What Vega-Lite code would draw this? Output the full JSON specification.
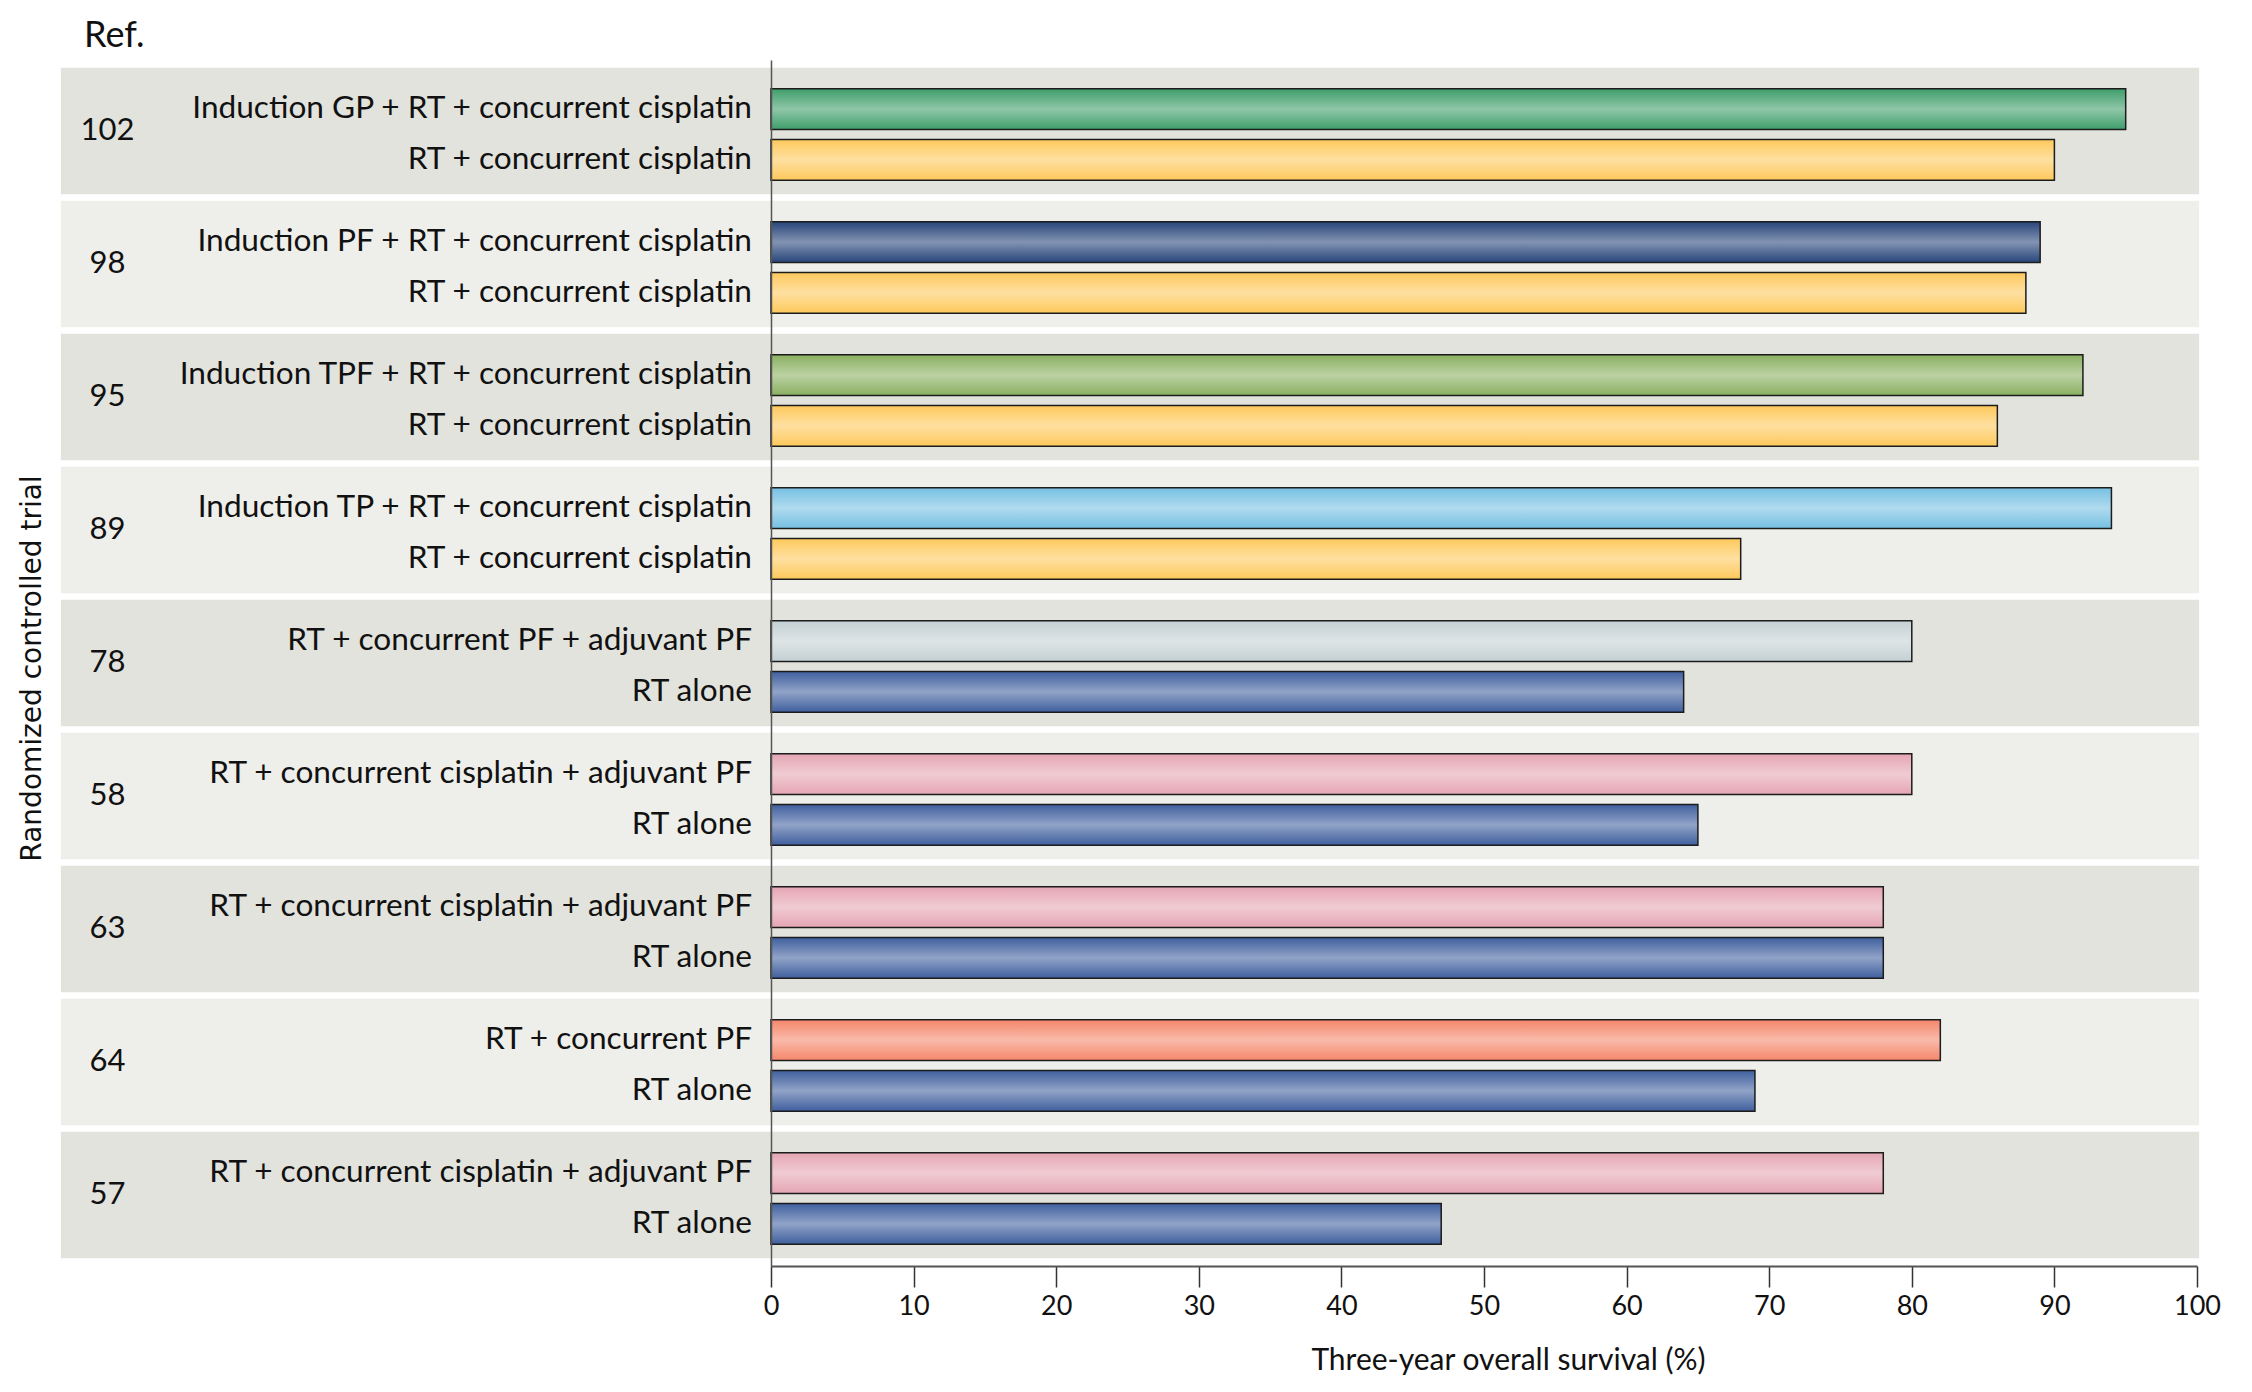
{
  "$schema": "https://vega.github.io/schema/vega-lite/v6.json",
  "width": 1426,
  "height": 1206,
  "autosize": {"type": "none"},
  "padding": {"left": 771, "top": 60, "right": 55, "bottom": 126},
  "background": "#ffffff",
  "config": {"view": {"stroke": null}},
  "title": {"text": "Ref.", "anchor": "start", "frame": "group", "dx": -687, "dy": 35, "offset": 12, "baseline": "alphabetic", "font": "Lato", "fontSize": 36, "fontWeight": "normal", "color": "#111111"},
  "datasets": {
    "bands": [
      {"trial": "102", "shade": "dark"},
      {"trial": "98", "shade": "light"},
      {"trial": "95", "shade": "dark"},
      {"trial": "89", "shade": "light"},
      {"trial": "78", "shade": "dark"},
      {"trial": "58", "shade": "light"},
      {"trial": "63", "shade": "dark"},
      {"trial": "64", "shade": "light"},
      {"trial": "57", "shade": "dark"}
    ],
    "arms": [
      {"trial": "102", "arm": "a", "label": "Induction GP + RT + concurrent cisplatin", "survival": 95, "regimen": "GP"},
      {"trial": "102", "arm": "b", "label": "RT + concurrent cisplatin", "survival": 90, "regimen": "RTcc"},
      {"trial": "98", "arm": "a", "label": "Induction PF + RT + concurrent cisplatin", "survival": 89, "regimen": "PF"},
      {"trial": "98", "arm": "b", "label": "RT + concurrent cisplatin", "survival": 88, "regimen": "RTcc"},
      {"trial": "95", "arm": "a", "label": "Induction TPF + RT + concurrent cisplatin", "survival": 92, "regimen": "TPF"},
      {"trial": "95", "arm": "b", "label": "RT + concurrent cisplatin", "survival": 86, "regimen": "RTcc"},
      {"trial": "89", "arm": "a", "label": "Induction TP + RT + concurrent cisplatin", "survival": 94, "regimen": "TP"},
      {"trial": "89", "arm": "b", "label": "RT + concurrent cisplatin", "survival": 68, "regimen": "RTcc"},
      {"trial": "78", "arm": "a", "label": "RT + concurrent PF + adjuvant PF", "survival": 80, "regimen": "PFadj"},
      {"trial": "78", "arm": "b", "label": "RT alone", "survival": 64, "regimen": "RTalone"},
      {"trial": "58", "arm": "a", "label": "RT + concurrent cisplatin + adjuvant PF", "survival": 80, "regimen": "ccadj"},
      {"trial": "58", "arm": "b", "label": "RT alone", "survival": 65, "regimen": "RTalone"},
      {"trial": "63", "arm": "a", "label": "RT + concurrent cisplatin + adjuvant PF", "survival": 78, "regimen": "ccadj"},
      {"trial": "63", "arm": "b", "label": "RT alone", "survival": 78, "regimen": "RTalone"},
      {"trial": "64", "arm": "a", "label": "RT + concurrent PF", "survival": 82, "regimen": "cPF"},
      {"trial": "64", "arm": "b", "label": "RT alone", "survival": 69, "regimen": "RTalone"},
      {"trial": "57", "arm": "a", "label": "RT + concurrent cisplatin + adjuvant PF", "survival": 78, "regimen": "ccadj"},
      {"trial": "57", "arm": "b", "label": "RT alone", "survival": 47, "regimen": "RTalone"}
    ]
  },
  "encoding": {
    "y": {
      "field": "trial", "type": "nominal",
      "sort": ["102", "98", "95", "89", "78", "58", "63", "64", "57"],
      "scale": {"paddingInner": 0.05, "paddingOuter": 0.059},
      "axis": {
        "zindex": 1,
        "ticks": false,
        "domainColor": "#555555", "domainWidth": 1.5,
        "labelAlign": "center", "labelPadding": 664,
        "labelFont": "Lato", "labelFontSize": 31, "labelColor": "#111111",
        "title": "Randomized controlled trial",
        "titleFont": "DejaVu Sans", "titleFontSize": 28, "titleFontWeight": "normal", "titleColor": "#111111",
        "titleAngle": -90, "titleX": -739, "titleY": 608, "titleAlign": "center", "titleBaseline": "middle"
      }
    }
  },
  "layer": [
    {
      "data": {"name": "bands"},
      "mark": {"type": "rect"},
      "encoding": {
        "x": {"datum": -49.8, "type": "quantitative"},
        "x2": {"datum": 100.15},
        "fill": {"field": "shade", "type": "nominal", "scale": {"domain": ["dark", "light"], "range": ["#e2e3dd", "#eeeeea"]}, "legend": null}
      }
    },
    {
      "data": {"name": "arms"},
      "mark": {"type": "bar"},
      "encoding": {
        "x": {
          "field": "survival", "type": "quantitative",
          "scale": {"domain": [0, 100], "nice": false, "zero": true},
          "axis": {
            "values": [0, 10, 20, 30, 40, 50, 60, 70, 80, 90, 100],
            "grid": false, "zindex": 1, "labelFlush": false,
            "domainColor": "#555555", "domainWidth": 2,
            "tickColor": "#333333", "tickWidth": 1.5, "tickSize": 21,
            "labelFont": "Lato", "labelFontSize": 27, "labelColor": "#111111", "labelPadding": 6,
            "title": "Three-year overall survival (%)",
            "titleFont": "Lato", "titleFontSize": 30, "titleFontWeight": "normal", "titleColor": "#111111",
            "titleX": 737, "titleY": 94, "titleAlign": "center", "titleBaseline": "middle"
          }
        },
        "yOffset": {"field": "arm", "type": "nominal", "scale": {"paddingInner": 0.196, "paddingOuter": 0.343, "align": 0.6}},
        "color": {
          "field": "regimen", "type": "nominal",
          "scale": {
            "domain": ["GP", "RTcc", "PF", "TPF", "TP", "PFadj", "RTalone", "ccadj", "cPF"],
            "range": ["#3e9e6a", "#fec95c", "#27457a", "#8ab060", "#76c0e2", "#c4d0d3", "#3f5f9e", "#e5a5b3", "#f5866a"]
          },
          "legend": null
        }
      }
    },
    {
      "data": {"name": "arms"},
      "mark": {
        "type": "bar",
        "stroke": "#1c1c1c", "strokeWidth": 1.5,
        "fill": {"gradient": "linear", "x1": 0, "y1": 0, "x2": 0, "y2": 1,
          "stops": [
            {"offset": 0, "color": "rgba(255,255,255,0)"},
            {"offset": 0.5, "color": "rgba(255,255,255,1)"},
            {"offset": 1, "color": "rgba(255,255,255,0)"}
          ]}
      },
      "encoding": {
        "x": {"field": "survival", "type": "quantitative"},
        "yOffset": {"field": "arm", "type": "nominal"},
        "fillOpacity": {
          "field": "regimen", "type": "nominal",
          "scale": {
            "domain": ["GP", "RTcc", "PF", "TPF", "TP", "PFadj", "RTalone", "ccadj", "cPF"],
            "range": [0.42, 0.43, 0.12, 0.43, 0.48, 0.5, 0.4, 0.58, 0.38]
          },
          "legend": null
        }
      }
    },
    {
      "data": {"name": "arms"},
      "mark": {"type": "text", "align": "right", "baseline": "middle", "dx": -19, "font": "Lato", "fontSize": 31.6, "color": "#111111"},
      "encoding": {
        "x": {"datum": 0, "type": "quantitative"},
        "yOffset": {"field": "arm", "type": "nominal"},
        "text": {"field": "label", "type": "nominal"}
      }
    }
  ]
}
